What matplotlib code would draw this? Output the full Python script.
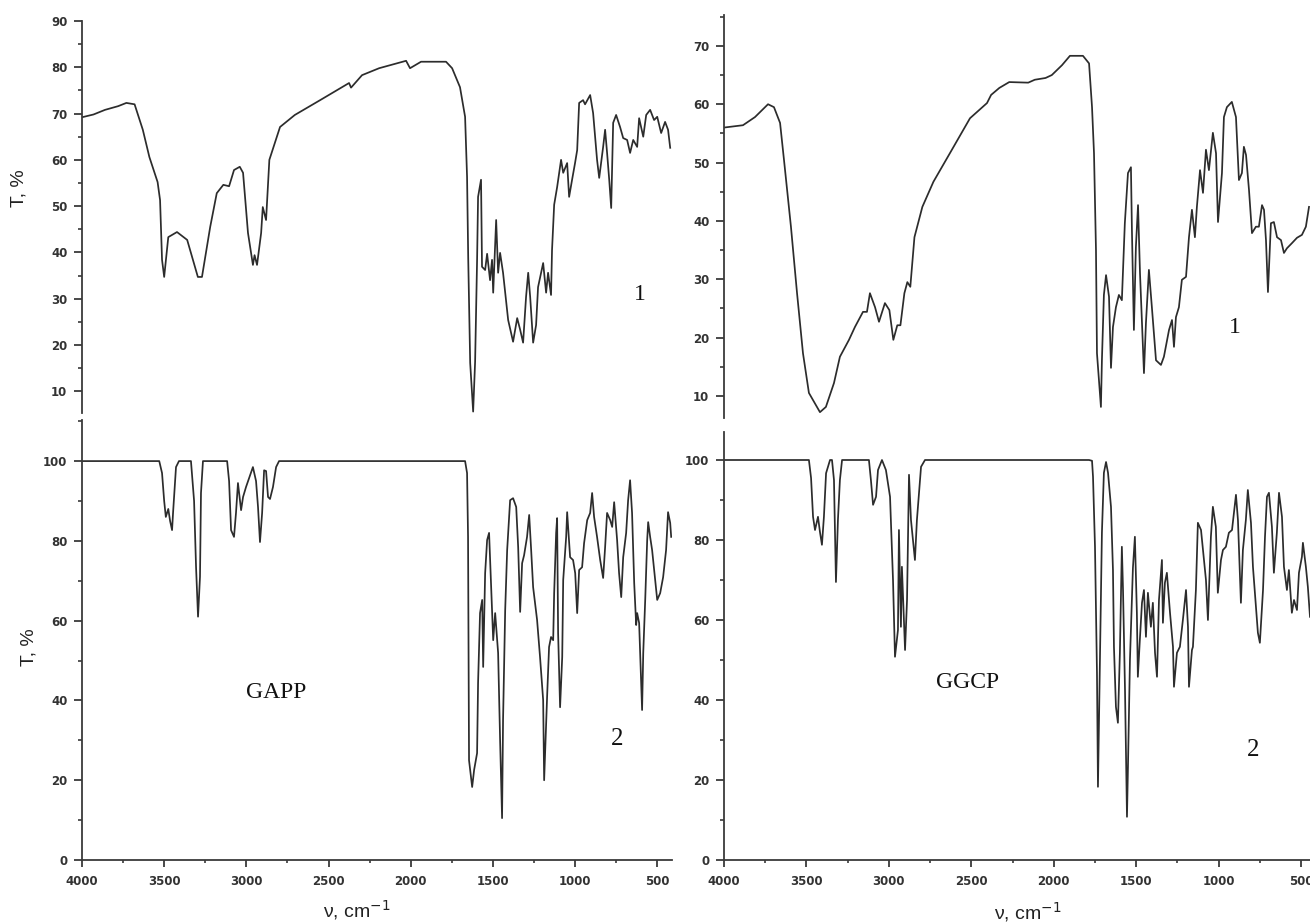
import matplotlib
matplotlib.use("Agg")
import matplotlib.pyplot as plt
from matplotlib.ticker import MultipleLocator

# ---------------- data ----------------
# GAPP, spectrum 1 (top left)
gapp1_v = [4000, 3930, 3860, 3780, 3730, 3680, 3630, 3590, 3540, 3525, 3513, 3500, 3475, 3422, 3360,
           3295, 3270, 3220, 3180, 3140, 3105, 3075, 3040, 3020, 2990, 2960, 2950, 2935, 2910, 2900,
           2880, 2860, 2795, 2705, 2551, 2375, 2363, 2296, 2192, 2028, 2004, 1937, 1785, 1748, 1700,
           1669, 1657, 1650, 1638, 1620, 1608, 1596, 1590, 1572, 1566, 1547, 1535, 1517, 1505, 1498,
           1480, 1468, 1456, 1438, 1407, 1377, 1352, 1334, 1316, 1298, 1285, 1273, 1255, 1237, 1225,
           1194, 1176, 1164, 1146, 1140, 1127, 1109, 1085, 1072, 1048, 1036, 1018, 1000, 987, 975,
           951, 939, 908, 890, 866, 853, 829, 817, 805, 792, 780, 768, 750, 726, 707,
           683, 665, 646, 622, 610, 585, 567, 543, 519, 500, 476, 452, 434, 421]
gapp1_t = [69.2, 69.8, 70.8, 71.6, 72.3, 72.0, 66.5, 60.6, 55.2, 51.3, 38.4, 34.7, 43.3, 44.4, 42.7,
           34.7, 34.7, 45.5, 52.8, 54.6, 54.3, 57.8, 58.5, 57.2, 44.2, 37.3, 39.4, 37.3, 44.2, 49.8,
           47.0, 60.0, 67.1, 69.7, 72.9, 76.6, 75.6, 78.3, 79.8, 81.4, 79.8, 81.2, 81.2, 79.8, 75.7,
           69.3, 56.3, 38.8, 16.1, 5.6, 16.4, 38.4, 52.0, 55.7, 36.9, 36.2, 39.7, 34.0, 38.4, 31.3,
           47.0, 35.6, 39.9, 35.6, 25.4, 20.7, 25.8, 23.3, 20.5, 30.4, 35.6, 30.4, 20.5, 24.3, 32.5,
           37.7, 31.3, 35.6, 30.8, 40.5, 50.3, 54.1, 60.0, 57.2, 59.3, 52.0, 55.7, 59.3, 62.1, 72.3,
           72.9, 72.0, 74.0, 70.1, 60.0, 56.1, 62.8, 66.5, 61.5, 55.7, 49.6, 68.0, 69.7, 67.1, 64.7,
           64.3, 61.5, 64.3, 62.8, 69.0, 65.0, 69.7, 70.8, 68.6, 69.3, 65.8, 68.2, 66.5, 62.6]

# GGCP, spectrum 1 (top right)
ggcp1_v = [4000, 3885, 3812, 3733, 3697, 3660, 3636, 3594, 3557, 3521, 3485, 3418, 3382, 3333, 3297,
           3242, 3206, 3157, 3133, 3115, 3084, 3060, 3024, 2997, 2973, 2949, 2930, 2906, 2888, 2870,
           2845, 2797, 2730, 2630, 2508, 2405, 2380, 2330, 2270, 2155, 2115, 2050, 2012, 1950, 1902,
           1823, 1786, 1768, 1756, 1744, 1738, 1714, 1708, 1696, 1683, 1665, 1653, 1641, 1623, 1605,
           1587, 1569, 1550, 1532, 1526, 1514, 1502, 1489, 1477, 1465, 1453, 1441, 1423, 1405, 1380,
           1350, 1332, 1301, 1283, 1271, 1259, 1241, 1223, 1198, 1180, 1162, 1144, 1132, 1113, 1095,
           1077, 1059, 1035, 1016, 1004, 980, 968, 950, 920, 895, 877, 859, 847, 834, 816,
           798, 774, 756, 737, 725, 713, 701, 683, 665, 646, 622, 604, 586, 555, 525,
           495, 471, 452]
ggcp1_t = [56.0, 56.4, 57.8, 60.0, 59.5, 56.8, 50.4, 39.0, 27.6, 17.3, 10.5, 7.2, 8.1, 12.2, 16.7,
           19.6, 21.8, 24.4, 24.4, 27.6, 25.2, 22.7, 25.9, 24.7, 19.6, 22.1, 22.1, 27.6, 29.5, 28.7,
           37.2, 42.4, 46.7, 51.6, 57.6, 60.2, 61.6, 62.8, 63.8, 63.7, 64.2, 64.5, 65.0, 66.7, 68.3,
           68.3, 67.0, 59.5, 51.6, 35.0, 17.3, 8.1, 16.1, 27.3, 30.7, 27.0, 14.8, 21.8, 25.2, 27.3,
           26.4, 39.6, 48.2, 49.2, 38.4, 21.3, 35.5, 42.7, 31.0, 22.5, 13.9, 22.5, 31.6, 25.2, 16.1,
           15.3, 16.7, 21.3, 23.0, 18.4, 23.5, 25.2, 29.9, 30.4, 37.2, 41.9, 37.2, 42.4, 48.7, 44.8,
           52.2, 48.7, 55.1, 51.6, 39.8, 48.2, 57.8, 59.5, 60.4, 57.8, 47.0, 48.2, 52.7, 51.3, 45.3,
           37.9, 39.0, 39.0, 42.7, 41.9, 36.7, 27.8, 39.6, 39.8, 37.2, 36.7, 34.5, 35.3, 36.2, 37.1,
           37.6, 39.0, 42.4]

# GAPP, spectrum 2 (bottom left)
gapp2_v = [4000, 3537, 3530, 3513, 3500, 3490, 3475, 3464, 3452, 3446, 3428, 3410, 3337, 3318, 3306,
           3294, 3282, 3276, 3264, 3117, 3105, 3093, 3075, 3063, 3051, 3032, 3020, 3002, 2960, 2941,
           2929, 2917, 2904, 2892, 2880, 2868, 2856, 2838, 2819, 2801, 1669, 1657, 1651, 1645, 1626,
           1614, 1596, 1590, 1578, 1565, 1559, 1547, 1535, 1523, 1511, 1498, 1486, 1468, 1456, 1444,
           1438, 1425, 1413, 1395, 1377, 1358, 1346, 1334, 1322, 1310, 1292, 1279, 1267, 1255, 1231,
           1213, 1194, 1188, 1170, 1158, 1146, 1133, 1127, 1115, 1109, 1103, 1091, 1078, 1072, 1054,
           1048, 1030, 1012, 999, 987, 975, 957, 945, 926, 908, 896, 884, 866, 847, 829,
           817, 805, 786, 774, 762, 744, 732, 719, 707, 689, 677, 665, 653, 640, 628,
           622, 610, 598, 592, 585, 573, 561, 555, 543, 531, 512, 500, 482, 464, 446,
           434, 421, 415]
gapp2_t = [100, 100, 100, 97, 90, 86, 88, 85, 82.7, 87, 98.5, 100, 100, 90, 73.4,
           61, 71, 92, 100, 100, 95, 82.7, 81, 87, 94.5, 87.7, 91, 93.5, 98.5, 95,
           88.5, 79.7, 87, 97.7, 97.5, 91, 90.5, 93.5, 98.5, 100, 100, 97, 81, 25, 18.3,
           22.6, 26.8, 44.4, 61.9, 65.2, 48.4, 71.9, 80.2, 82, 69.4, 55.1, 61.9, 51.9, 30.1, 10.5,
           35.1, 62.7, 77.7, 90.2, 90.7, 88.5, 78.4, 62.2, 74.4, 76.4, 81, 86.5, 77.7, 68.4, 60.2,
           50.9, 40.1, 20, 40.9, 53.4, 55.9, 55.1, 66.9, 82, 85.7, 56.9, 38.3, 50.9, 70.2, 81,
           87.2, 75.9, 75.2, 71.9, 61.9, 72.7, 73.4, 79.4, 85.2, 87, 92, 86, 81, 75.2, 70.7,
           78.4, 87, 85.2, 83.5, 89.7, 80.2, 71.9, 65.9, 75.9, 82, 90.2, 95.2, 87, 69.4, 58.9,
           61.9, 59.4, 45.1, 37.6, 51.9, 65.2, 80.2, 84.7, 81, 77.7, 70.2, 65.2, 66.9, 70.9, 77.7,
           87.2, 84.5, 81]

# GGCP, spectrum 2 (bottom right)
ggcp2_v = [4000, 3485, 3472, 3460, 3448, 3430, 3418, 3406, 3394, 3381, 3357, 3345, 3333, 3321, 3309,
           3297, 3284, 3121, 3109, 3096, 3078, 3066, 3042, 3018, 2993, 2975, 2963, 2945, 2939, 2927,
           2921, 2902, 2890, 2878, 2866, 2854, 2842, 2830, 2805, 2781, 1786, 1768, 1762, 1750, 1738,
           1732, 1720, 1708, 1696, 1683, 1671, 1653, 1641, 1635, 1623, 1611, 1599, 1587, 1580, 1568,
           1556, 1550, 1538, 1520, 1508, 1496, 1490, 1478, 1465, 1453, 1441, 1429, 1411, 1399, 1386,
           1374, 1362, 1344, 1338, 1326, 1314, 1295, 1277, 1271, 1253, 1235, 1217, 1198, 1186, 1180,
           1162, 1156, 1138, 1126, 1107, 1095, 1077, 1065, 1047, 1035, 1017, 1005, 986, 974, 956,
           938, 919, 907, 895, 883, 865, 853, 835, 823, 804, 792, 774, 762, 750, 731,
           719, 707, 695, 677, 665, 647, 634, 616, 604, 586, 574, 556, 543, 525, 513,
           495, 489, 471, 459, 446]
ggcp2_t = [100, 100, 95.5, 85.8, 82.5, 85.8, 82, 78.8, 85.8, 96.7, 100, 100, 95, 69.5, 85,
           95, 100, 100, 95, 88.8, 90.8, 97.5, 100, 97.5, 90.8, 70, 50.8, 57.5, 82.5, 58.3,
           73.3, 52.5, 65, 96.3, 85, 80, 75, 85, 98.3, 100, 100, 99.8, 95.8, 78.3, 46.8,
           18.3, 50.8, 81.8, 96.8, 99.5, 96.8, 88.3, 72.5, 53.3, 38.3, 34.3, 51.8, 78.3, 67.5, 42.5,
           10.8, 23.3, 50, 73, 80.8, 61.8, 45.8, 55, 64.3, 67.5, 55.8, 66.8, 58.3, 64.3, 51.8,
           45.8, 65, 75, 59.3, 69.3, 71.8, 61.8, 53.3, 43.3, 51.8, 53.3, 60, 67.5, 58.3, 43.3,
           52.5, 53.3, 67.5, 84.3, 82.5, 77.5, 70, 60, 80.8, 88.3, 83.3, 66.8, 75, 77.5, 78.3,
           81.8, 82.5, 86.8, 91.3, 85, 64.3, 77.5, 85, 92.5, 84.3, 73.3, 63.3, 56.8, 54.3, 67.5,
           80.8, 90.8, 91.8, 83.3, 71.8, 81.8, 91.8, 85.8, 73.3, 67.5, 72.5, 61.8, 65, 62.5, 71.8,
           75.8, 79.3, 73.3, 68.3, 60.8]

x_ticks = [4000, 3500, 3000, 2500, 2000, 1500, 1000, 500]
x_label = "ν, cm$^{-1}$"
y_label = "T, %"

# ---------------- figure ----------------
W, H = 1310, 924
fig = plt.figure(figsize=(W / 100, H / 100), dpi=100)
fig.patch.set_facecolor("white")

def pos(x0, y_top, x1, y_bot):
    return [x0 / W, 1 - y_bot / H, (x1 - x0) / W, (y_bot - y_top) / H]

line_kw = dict(color="#2c2c2c", lw=1.25)
axc = "#3a3a3a"

def style(ax, ylim, ymaj, ymin, show_x):
    for s in ["top", "right"]:
        ax.spines[s].set_visible(False)
    ax.spines["left"].set_color(axc)
    ax.spines["left"].set_linewidth(1.3)
    ax.set_ylim(*ylim)
    ax.yaxis.set_major_locator(MultipleLocator(ymaj))
    ax.yaxis.set_minor_locator(MultipleLocator(ymin))
    ax.tick_params(axis="y", which="major", length=5.5, width=1.3, color=axc, pad=5)
    ax.tick_params(axis="y", which="minor", length=3, width=1.2, color=axc)
    if show_x:
        ax.spines["bottom"].set_color(axc)
        ax.spines["bottom"].set_linewidth(1.3)
        ax.set_xticks(x_ticks)
        ax.xaxis.set_minor_locator(MultipleLocator(250))
        ax.tick_params(axis="x", which="major", length=5, width=1.3, color=axc, pad=6)
        ax.tick_params(axis="x", which="minor", length=2.5, width=1.2, color=axc)
    else:
        ax.spines["bottom"].set_visible(False)
        ax.tick_params(axis="x", which="both", bottom=False, labelbottom=False)
    for lab in ax.get_xticklabels() + ax.get_yticklabels():
        lab.set_fontfamily("DejaVu Sans")
        lab.set_fontsize(8.5)
        lab.set_fontweight("bold")
        lab.set_color("#333333")

ann = dict(family="Liberation Serif", ha="center", va="center", color="#111111")

# top-left
ax1 = fig.add_axes(pos(82, 21, 672, 413))
ax1.plot(gapp1_v, gapp1_t, **line_kw)
ax1.set_xlim(4000, 410)
style(ax1, (5.3, 90), 10, 5, False)
ax1.text(604, 31, "1", fontsize=17, **ann)

# top-right
ax2 = fig.add_axes(pos(724, 15, 1310, 418))
ax2.plot(ggcp1_v, ggcp1_t, **line_kw)
ax2.set_xlim(4000, 446)
style(ax2, (6.2, 75.3), 10, 5, False)
ax2.text(901, 21.8, "1", fontsize=17, **ann)

# bottom-left
ax3 = fig.add_axes(pos(82, 420, 672, 860))
ax3.plot(gapp2_v, gapp2_t, **line_kw)
ax3.set_xlim(4000, 410)
style(ax3, (0, 110.3), 20, 10, True)
ax3.text(2819, 42.1, "GAPP", fontsize=17, **ann)
ax3.text(744, 30.3, "2", fontsize=18, **ann)

# bottom-right
ax4 = fig.add_axes(pos(724, 432, 1310, 860))
ax4.plot(ggcp2_v, ggcp2_t, **line_kw)
ax4.set_xlim(4000, 446)
style(ax4, (0, 107), 20, 10, True)
ax4.text(2520, 44.5, "GGCP", fontsize=17, **ann)
ax4.text(792, 27.5, "2", fontsize=18, **ann)

lab = dict(fontsize=14, family="Liberation Sans", ha="center", va="center", color="#222222")
fig.text(19 / W, 1 - 188 / H, y_label, rotation=90, **lab)
fig.text(29 / W, 1 - 647 / H, y_label, rotation=90, **lab)
fig.text(357 / W, 1 - 910 / H, x_label, **lab)
fig.text(1028 / W, 1 - 912 / H, x_label, **lab)

fig.savefig("out.png", dpi=100, facecolor="white")
